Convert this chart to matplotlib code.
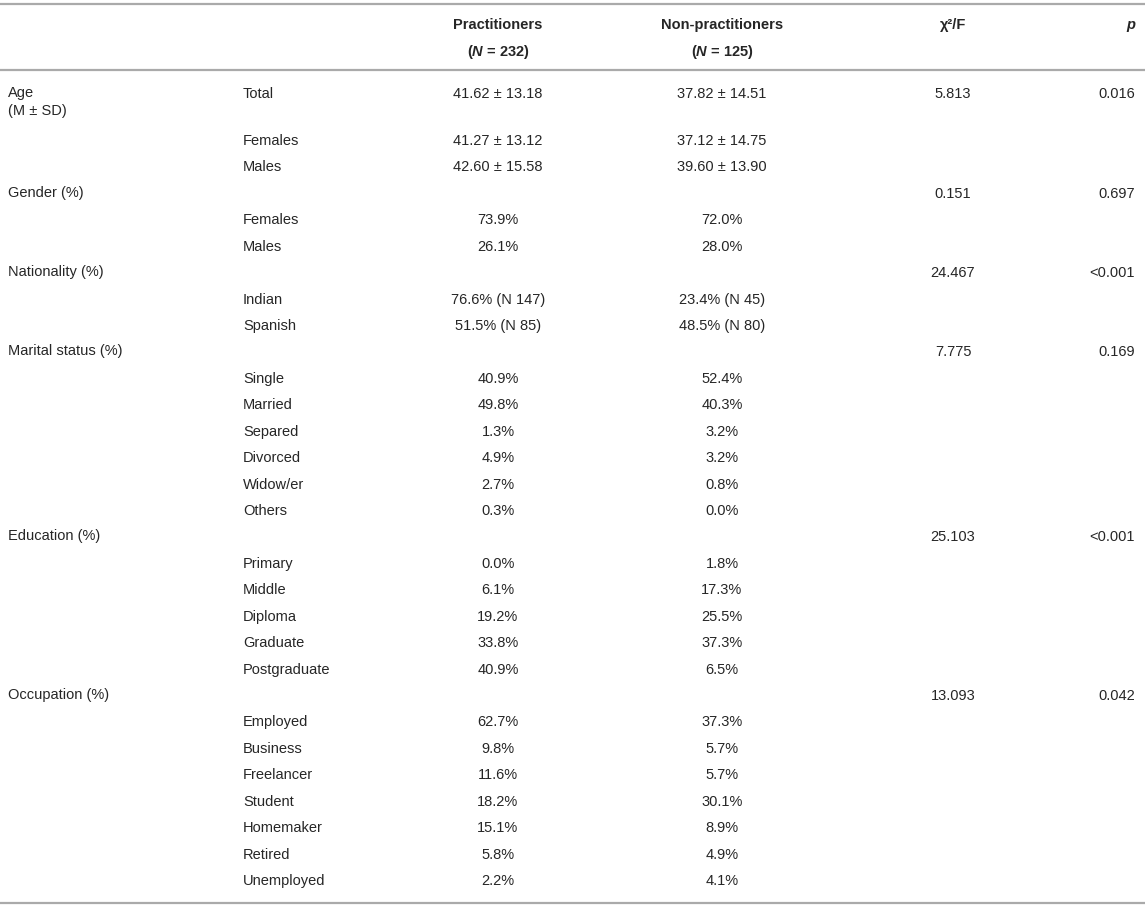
import matplotlib.pyplot as plt

plt.rcParams['font.family'] = ['Liberation Sans', 'DejaVu Sans']
plt.rcParams['mathtext.fontset'] = 'custom'
plt.rcParams['mathtext.bfit'] = 'Liberation Sans:italic:bold'
plt.rcParams['mathtext.it'] = 'Liberation Sans:italic'
plt.rcParams['mathtext.bf'] = 'Liberation Sans:bold'
plt.rcParams['mathtext.rm'] = 'Liberation Sans'

# table content
group_labels = ["Age\n(M ± SD)", "", "", "Gender (%)", "", "", "Nationality (%)", "", "",
                "Marital status (%)", "", "", "", "", "", "",
                "Education (%)", "", "", "", "", "",
                "Occupation (%)", "", "", "", "", "", "", ""]
sub_labels = ["Total", "Females", "Males", "", "Females", "Males", "", "Indian", "Spanish",
              "", "Single", "Married", "Separed", "Divorced", "Widow/er", "Others",
              "", "Primary", "Middle", "Diploma", "Graduate", "Postgraduate",
              "", "Employed", "Business", "Freelancer", "Student", "Homemaker", "Retired", "Unemployed"]
practitioners = ["41.62 ± 13.18", "41.27 ± 13.12", "42.60 ± 15.58", "", "73.9%", "26.1%", "",
                 "76.6% (N 147)", "51.5% (N 85)", "", "40.9%", "49.8%", "1.3%", "4.9%", "2.7%", "0.3%",
                 "", "0.0%", "6.1%", "19.2%", "33.8%", "40.9%",
                 "", "62.7%", "9.8%", "11.6%", "18.2%", "15.1%", "5.8%", "2.2%"]
non_practitioners = ["37.82 ± 14.51", "37.12 ± 14.75", "39.60 ± 13.90", "", "72.0%", "28.0%", "",
                     "23.4% (N 45)", "48.5% (N 80)", "", "52.4%", "40.3%", "3.2%", "3.2%", "0.8%", "0.0%",
                     "", "1.8%", "17.3%", "25.5%", "37.3%", "6.5%",
                     "", "37.3%", "5.7%", "5.7%", "30.1%", "8.9%", "4.9%", "4.1%"]
chi_f = ["5.813", "", "", "0.151", "", "", "24.467", "", "", "7.775", "", "", "", "", "", "",
         "25.103", "", "", "", "", "", "13.093", "", "", "", "", "", "", ""]
p_values = ["0.016", "", "", "0.697", "", "", "<0.001", "", "", "0.169", "", "", "", "", "", "",
            "<0.001", "", "", "", "", "", "0.042", "", "", "", "", "", "", ""]

W, H = 1145, 907
fig = plt.figure(figsize=(W / 100, H / 100), dpi=100)
ax = fig.add_axes([0, 0, 1, 1])
ax.set_xlim(0, W)
ax.set_ylim(H, 0)
ax.axis('off')

txt = '#262626'
rule = '#aaaaaa'
fs = 10.5

# rules
for y in (4, 70, 903):
    ax.plot([0, W], [y, y], color=rule, lw=1.6, solid_capstyle='butt')

# header
ax.text(498, 25, "Practitioners", ha='center', va='center', fontsize=fs, fontweight='bold', color=txt)
ax.text(498, 52, r"($\mathbfit{N}$ = 232)", ha='center', va='center', fontsize=fs, fontweight='bold', color=txt)
ax.text(722, 25, "Non-practitioners", ha='center', va='center', fontsize=fs, fontweight='bold', color=txt)
ax.text(722, 52, r"($\mathbfit{N}$ = 125)", ha='center', va='center', fontsize=fs, fontweight='bold', color=txt)
ax.text(953, 25, "χ²/F", ha='center', va='center', fontsize=fs, fontweight='bold', color=txt)
ax.text(1135, 25, "p", ha='right', va='center', fontsize=fs, fontweight='bold', style='italic', color=txt)

# body rows
y0, step = 141, 26.43
for i in range(len(sub_labels)):
    y = 94 if i == 0 else y0 + (i - 1) * step
    if group_labels[i]:
        ax.text(8, y - 8, group_labels[i], ha='left', va='top', fontsize=fs, color=txt, linespacing=1.4)
    ax.text(243, y, sub_labels[i], ha='left', va='center', fontsize=fs, color=txt)
    ax.text(498, y, practitioners[i], ha='center', va='center', fontsize=fs, color=txt)
    ax.text(722, y, non_practitioners[i], ha='center', va='center', fontsize=fs, color=txt)
    ax.text(953, y, chi_f[i], ha='center', va='center', fontsize=fs, color=txt)
    ax.text(1135, y, p_values[i], ha='right', va='center', fontsize=fs, color=txt)

fig.savefig('out.png', dpi=100)
